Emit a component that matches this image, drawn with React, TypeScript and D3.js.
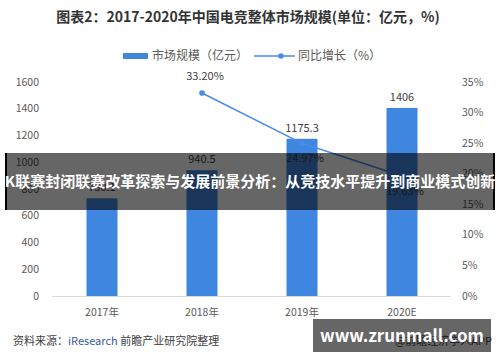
import * as d3 from "d3";

// data
const years = ["2017年", "2018年", "2019年", "2020E"];
const marketSize = [730.1, 940.5, 1175.3, 1406];
const growth = [null, 33.2, 24.97, 19.63];
const growthLabels = ["", "33.20%", "24.97%", "19.63%"];
const leftTicks = [0, 200, 400, 600, 800, 1000, 1200, 1400, 1600];
const rightTicks = [0, 5, 10, 15, 20, 25, 30, 35];

const W = 500;
const H = 362;
const font = "'Noto Sans CJK SC', 'Noto Sans', sans-serif";
const barColor = "#3f86e1";
const lineColor = "#4a8ae8";
const textColor = "#595959";

export default function App() {
  const x = d3.scaleBand().domain(years).range([52, 452]).paddingInner(0.69).paddingOuter(0.345);
  const yL = d3.scaleLinear().domain([0, 1600]).range([296, 82]);
  const yR = d3.scaleLinear().domain([0, 35]).range([296, 82]);

  const pts = years
    .map((yr, i) => ({ yr, v: growth[i], label: growthLabels[i] }))
    .filter((d) => d.v !== null);
  const line = d3
    .line<any>()
    .x((d) => x(d.yr)! + x.bandwidth() / 2)
    .y((d) => yR(d.v));

  // first point's label sits above the line, the others below it
  const labelDy = (i: number) => (i === 0 ? -13 : 19);

  return (
    <div style={{ position: "fixed", left: 0, top: 0, width: W, height: H, background: "#fff" }}>
      <svg width={W} height={H} style={{ display: "block", fontFamily: font }}>
        <rect width={W} height={H} fill="#fff" />

        {/* title */}
        <text x={248} y={22} textAnchor="middle" fontSize={14} fontWeight="bold" fill="#333">
          图表2：2017-2020年中国电竞整体市场规模(单位：亿元，%)
        </text>

        {/* legend */}
        <rect x={123} y={53} width={25} height={6} fill={barColor} />
        <text x={152} y={60} fontSize={12} fill={textColor}>
          市场规模（亿元）
        </text>
        <line x1={254} x2={295} y1={56} y2={56} stroke={lineColor} strokeWidth={1.5} />
        <circle cx={281} cy={56} r={2.8} fill={lineColor} />
        <text x={298} y={60} fontSize={12} fill={textColor}>
          同比增长（%）
        </text>

        {/* left axis labels */}
        {leftTicks.map((t) => (
          <text key={t} x={39} y={yL(t) + 3.5} textAnchor="end" fontSize={10.5} fill={textColor}>
            {t}
          </text>
        ))}
        {/* right axis labels */}
        {rightTicks.map((t) => (
          <text key={t} x={462} y={yR(t) + 3.5} fontSize={10.5} fill={textColor}>
            {t}%
          </text>
        ))}

        {/* bars */}
        {years.map((yr, i) => (
          <g key={yr}>
            <rect
              x={x(yr)}
              y={yL(marketSize[i])}
              width={x.bandwidth()}
              height={yL(0) - yL(marketSize[i])}
              fill={barColor}
            />
            <text
              x={x(yr)! + x.bandwidth() / 2}
              y={yL(marketSize[i]) - 7}
              textAnchor="middle"
              fontSize={11}
              fill="#404040"
            >
              {marketSize[i]}
            </text>
            <text
              x={x(yr)! + x.bandwidth() / 2}
              y={316}
              textAnchor="middle"
              fontSize={10.5}
              fill={textColor}
            >
              {yr}
            </text>
          </g>
        ))}

        {/* baseline */}
        <line x1={52} x2={451} y1={296.5} y2={296.5} stroke="#d9d9d9" strokeWidth={1} />

        {/* growth line */}
        <path d={line(pts) || ""} fill="none" stroke={lineColor} strokeWidth={1.5} />
        {pts.map((d, i) => (
          <g key={d.yr}>
            <circle cx={x(d.yr)! + x.bandwidth() / 2} cy={yR(d.v!)} r={2.8} fill={lineColor} />
            <text
              x={x(d.yr)! + x.bandwidth() / 2 + 3}
              y={yR(d.v!) + labelDy(i)}
              textAnchor="middle"
              fontSize={11}
              fill="#404040"
            >
              {d.label}
            </text>
          </g>
        ))}

        {/* source */}
        <text x={13} y={345} fontSize={11} fill="#404040">
          资料来源：<tspan fill="#3a5a9c">iResearch</tspan> 前瞻产业研究院整理
        </text>
        <text x={492} y={345} textAnchor="end" fontSize={11} fill="#404040">
          @前瞻经济学人APP
        </text>

        {/* headline banner overlay */}
        <defs>
          <clipPath id="bannerClip">
            <rect x={5} y={153} width={490} height={57} />
          </clipPath>
        </defs>
        <rect x={5} y={153} width={490} height={57} fill="rgba(0,0,0,0.6)" />
        <rect x={5} y={153} width={2} height={57} fill="#000" />
        <rect x={493} y={153} width={2} height={57} fill="#000" />
        <text
          x={250}
          y={187}
          textAnchor="middle"
          fontSize={15}
          fontWeight="bold"
          fill="#fff"
          clipPath="url(#bannerClip)"
        >
          K联赛封闭联赛改革探索与发展前景分析：从竞技水平提升到商业模式创新
        </text>

        {/* site watermark box */}
        <rect x={313} y={319} width={178} height={33} fill="rgba(0,0,0,0.6)" />
        <text x={402} y={342} textAnchor="middle" fontSize={17} fontWeight="bold" fill="#fff">
          www.zrunmall.com
        </text>
      </svg>
    </div>
  );
}
